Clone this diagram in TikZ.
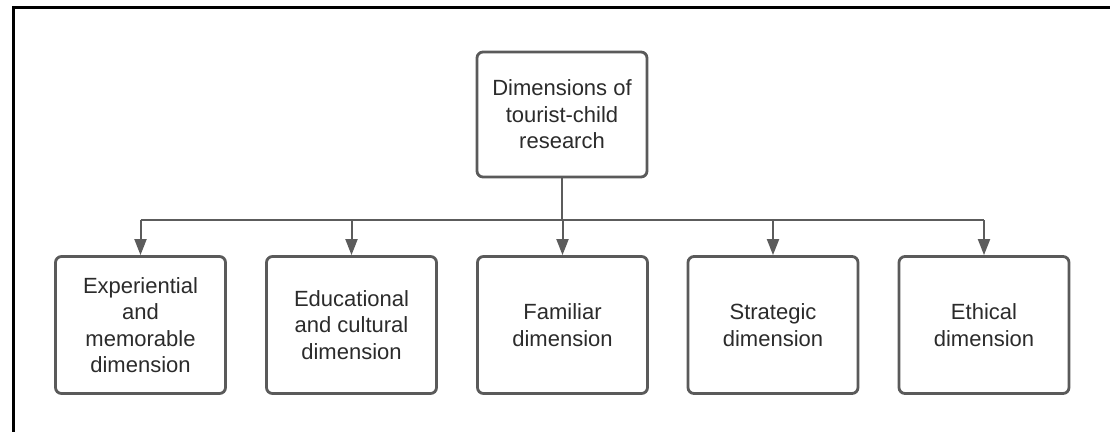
\documentclass[tikz,border=0pt]{standalone}
\usepackage{fontspec}
\setmainfont{Liberation Sans}
\usetikzlibrary{arrows.meta}
\definecolor{boxline}{HTML}{5A5A5A}
\definecolor{linkline}{HTML}{5C5C5C}
\definecolor{txt}{HTML}{2B2B2B}
\tikzset{
  dimbox/.style={draw=boxline, line width=2.8pt, rounded corners=6pt, fill=white,
    minimum width=170pt, minimum height=137pt, inner sep=0pt, align=center,
    text=txt, font=\fontsize{22}{26.5}\selectfont},
  rootbox/.style={dimbox, minimum height=125pt},
  link/.style={draw=linkline, line width=2pt},
  linkarrow/.style={link, -{Triangle[length=16pt,width=12pt]}},
  frameline/.style={draw=black, line width=3pt}
}
\begin{document}
\begin{tikzpicture}[x=1pt,y=-1pt]
  \useasboundingbox (0,0) rectangle (1110,432);
  % page frame (top and left edges)
  \draw[frameline] (1110,7.5) -- (13.5,7.5) -- (13.5,432);
  % root
  \node[rootbox] (root) at (562,114.5) {Dimensions of\\tourist-child\\research};
  % dimensions
  \node[dimbox] (c1) at (140.5,325) {Experiential\\and\\memorable\\dimension};
  \node[dimbox] (c2) at (351.5,325) {Educational\\and cultural\\dimension};
  \node[dimbox] (c3) at (562.5,325) {Familiar\\dimension};
  \node[dimbox] (c4) at (773,325) {Strategic\\dimension};
  \node[dimbox] (c5) at (984,325) {Ethical\\dimension};
  % connectors
  \coordinate (bus) at (562,220);
  \draw[link] (root.south) -- (bus);
  \draw[link] (c1.north |- bus) -- (c5.north |- bus);
  \foreach \c in {c1,c2,c3,c4,c5}
    \draw[linkarrow] (\c.north |- bus) -- (\c.north);
\end{tikzpicture}
\end{document}
